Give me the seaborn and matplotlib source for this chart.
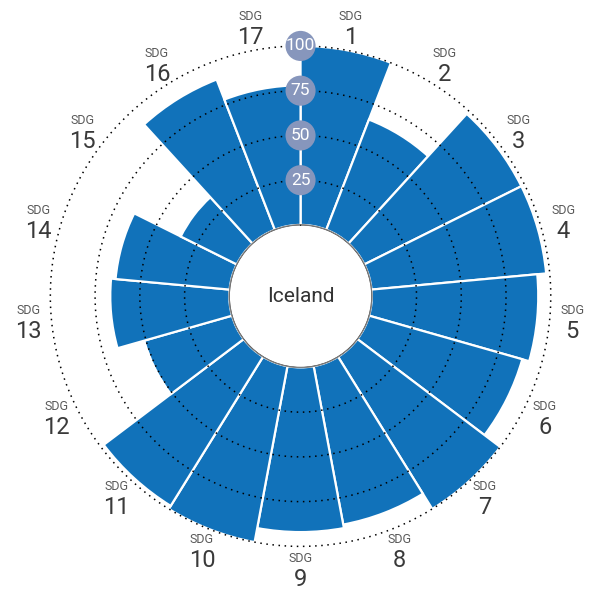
import numpy as np
import matplotlib
matplotlib.use('Agg')
import matplotlib.pyplot as plt
import seaborn as sns
from matplotlib.patches import Circle

sns.set_style('white')
plt.rcParams['font.family'] = ['Roboto', 'DejaVu Sans']

# Datos: puntaje por ODS (Iceland)
goals = ['1', '2', '3', '4', '5', '6', '7', '8', '9',
         '10', '11', '12', '13', '14', '15', '16', '17']
scores = [100, 66, 98, 98, 93, 89, 100, 90, 92,
          100, 98, 51, 66.5, 64, 35, 90, 78]
ring_values = [25, 50, 75, 100]
country = 'Iceland'

bar_color = '#1172BA'
marker_color = '#8796BC'

n = len(goals)
width = 2 * np.pi / n
theta = np.arange(n) * width + width / 2

fig = plt.figure(figsize=(5.98, 5.94), dpi=100)
ax = fig.add_axes([0.0542, 0.0500, 0.8968, 0.9028], projection='polar')
ax.set_theta_zero_location('N')
ax.set_theta_direction(-1)
ax.set_ylim(0, 110)
ax.set_rorigin(-39.8)

ax.bar(theta, scores, width=width, bottom=0, color=bar_color,
       edgecolor='white', linewidth=1.6, align='center', zorder=2)

# circulos punteados
circ = np.linspace(0, 2 * np.pi, 400)
for rv in ring_values:
    ax.plot(circ, np.full_like(circ, rv), color='black',
            linestyle=(0, (1, 3)), linewidth=1.1, zorder=3)

# marcadores de escala
ax.scatter(np.zeros(len(ring_values)), ring_values, s=470,
           color=marker_color, edgecolor='none', zorder=5)
for rv in ring_values:
    ax.text(0, rv, str(rv), color='white', fontsize=12.5,
            ha='center', va='center', zorder=6)

# etiquetas SDG
for t, g in zip(theta, goals):
    ax.annotate('SDG', xy=(t, 112.7), xytext=(0, 11),
                textcoords='offset pixels', ha='center', va='center',
                fontsize=9, color='#5a5a5a', annotation_clip=False)
    ax.annotate(g, xy=(t, 112.7), xytext=(0, -10),
                textcoords='offset pixels', ha='center', va='center',
                fontsize=17, color='#3a3a3a', annotation_clip=False)

# agujero central
hole = Circle((0.5, 0.5), radius=71.2 / 536.3, transform=ax.transAxes,
              facecolor='white', edgecolor='#999999', linewidth=0.8, zorder=4)
ax.add_patch(hole)
ax.text(0.5, 0.5, country, transform=ax.transAxes, ha='center',
        va='center', fontsize=15, color='#333333', zorder=6)

ax.grid(False)
ax.set_xticks([])
ax.set_yticks([])
ax.spines['polar'].set_visible(False)

fig.savefig('out.png', dpi=100)
